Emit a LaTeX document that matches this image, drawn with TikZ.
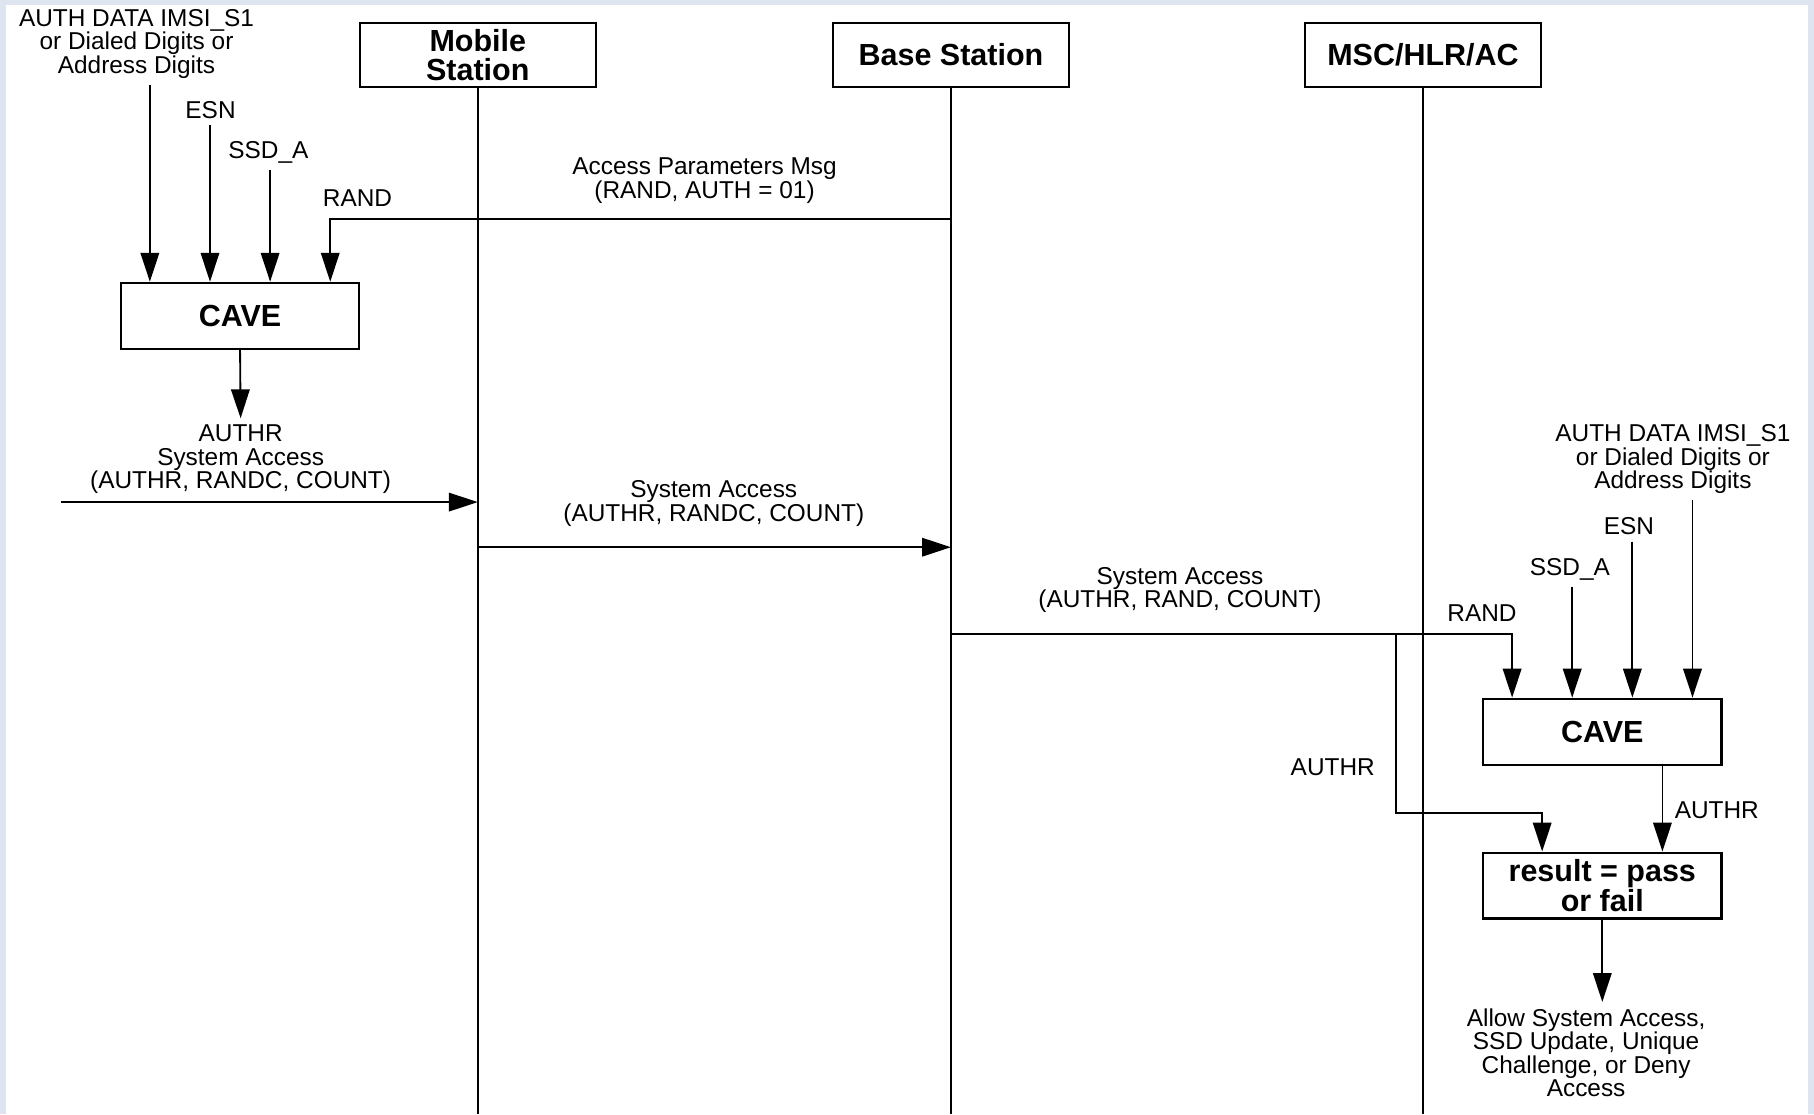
\documentclass[tikz,border=0pt]{standalone}
\usepackage{fontspec}
\setmainfont{Liberation Sans}
\usetikzlibrary{arrows.meta,calc}
\definecolor{fondbleu}{RGB}{222,229,241}

\begin{document}
\begin{tikzpicture}[
  x=0.02cm, y=-0.02cm,
  %  Définition des styles pour les cadres 
  entite_style/.style={rectangle, draw=black, line width=1.1pt, minimum width=4.08cm, minimum height=1.1cm, inner sep=2pt, align=center, font=\fontsize{15}{14.5}\selectfont\bfseries},
  bloc_style/.style={entite_style, minimum width=4.12cm, minimum height=1.14cm},
  texte_style/.style={align=center, inner sep=3pt, font=\fontsize{12}{11.6}\selectfont},
  %  Styles des traits 
  vie_style/.style={draw, line width=0.9pt},
  fleche_style/.style={draw, line width=0.9pt, -{Triangle[length=0.5cm, width=0.32cm]}}
]

%  Fond 
\useasboundingbox (0,0) rectangle (1568,963);
\fill[fondbleu] (0,0) rectangle (1568,963);
\fill[white] (5,4) rectangle (1563,963);

%  Entités et lignes de vie 
\node[entite_style] (ms) at (413,47.5) {Mobile\\Station};
\node[entite_style] (bs) at (822,47.5) {Base Station};
\node[entite_style] (msc) at (1230,47.5) {MSC/HLR/AC};
\coordinate (bas) at (0,963);
\foreach \e in {ms,bs,msc}
  \draw[vie_style] (\e.south) -- (\e.south |- bas);

%  Blocs de calcul 
\node[bloc_style] (cave_ms) at (207.5,273) {CAVE};
\node[bloc_style] (cave_msc) at (1385,632.5) {CAVE};
\node[bloc_style] (resultat) at (1385,765.5) {result = pass\\or fail};
\foreach \i/\f in {1/0.125,2/0.375,3/0.625,4/0.875} {
  \coordinate (em\i) at ($(cave_ms.north west)!\f!(cave_ms.north east)$);
  \coordinate (ed\i) at ($(cave_msc.north west)!\f!(cave_msc.north east)$);
}
\coordinate (rg) at ($(resultat.north west)!0.25!(resultat.north east)$);
\coordinate (rd) at ($(resultat.north west)!0.75!(resultat.north east)$);

%  Côté station mobile 
\node[texte_style] (auth_ms) at (118,38) {AUTH DATA IMSI\_S1\\or Dialed Digits or\\Address Digits};
\node[texte_style] (esn_ms) at (182,95) {ESN};
\node[texte_style] (ssd_ms) at (232,132) {SSD\_A};
\node[texte_style] (rand_ms) at (309,171) {RAND};
\node[texte_style] (param) at (609,156) {Access Parameters Msg\\(RAND, AUTH = 01)};
\draw[fleche_style] (em1 |- auth_ms.south) -- (em1);
\draw[fleche_style] (em2 |- esn_ms.south) -- (em2);
\draw[fleche_style] (em3 |- ssd_ms.south) -- (em3);
\coordinate (y_param) at (0,189);
\draw[fleche_style] (bs.south |- y_param) -| (em4);

\node[texte_style] (authr_ms) at (208,397) {AUTHR\\System Access\\(AUTHR, RANDC, COUNT)};
\draw[fleche_style] (cave_ms.south) -- (authr_ms.north);
\coordinate (depart) at (53,434);
\draw[fleche_style] (depart) -- (ms.south |- depart);

%  Vers la station de base 
\node[texte_style] (acces_bs) at (617,435) {System Access\\(AUTHR, RANDC, COUNT)};
\coordinate (y_acc1) at (0,473);
\draw[fleche_style] (ms.south |- y_acc1) -- (bs.south |- y_acc1);

%  Côté MSC/HLR/AC 
\node[texte_style] (acces_msc) at (1020,510) {System Access\\(AUTHR, RAND, COUNT)};
\node[texte_style] (rand_msc) at (1281,530) {RAND};
\node[texte_style] (ssd_msc) at (1357,492) {SSD\_A};
\node[texte_style] (esn_msc) at (1408,455) {ESN};
\node[texte_style] (auth_msc) at (1446,397) {AUTH DATA IMSI\_S1\\or Dialed Digits or\\Address Digits};
\coordinate (y_acc2) at (0,548);
\draw[fleche_style] (bs.south |- y_acc2) -| (ed1);
\draw[fleche_style] (ed2 |- ssd_msc.south) -- (ed2);
\draw[fleche_style] (ed3 |- esn_msc.south) -- (ed3);
\draw[fleche_style] (ed4 |- auth_msc.south) -- (ed4);

\coordinate (branche) at (1207,548);
\coordinate (coude) at (1207,703);
\node[texte_style] (authr_g) at (1152,663) {AUTHR};
\draw[fleche_style] (branche) -- (coude) -| (rg);
\node[texte_style] (authr_d) at (1484,700) {AUTHR};
\draw[fleche_style] (cave_msc.south -| rd) -- (rd);

\node[texte_style] (decision) at (1371,910) {Allow System Access,\\SSD Update, Unique\\Challenge, or Deny\\Access};
\draw[fleche_style] (resultat.south) -- (resultat.south |- decision.north);
\end{tikzpicture}
\end{document}
